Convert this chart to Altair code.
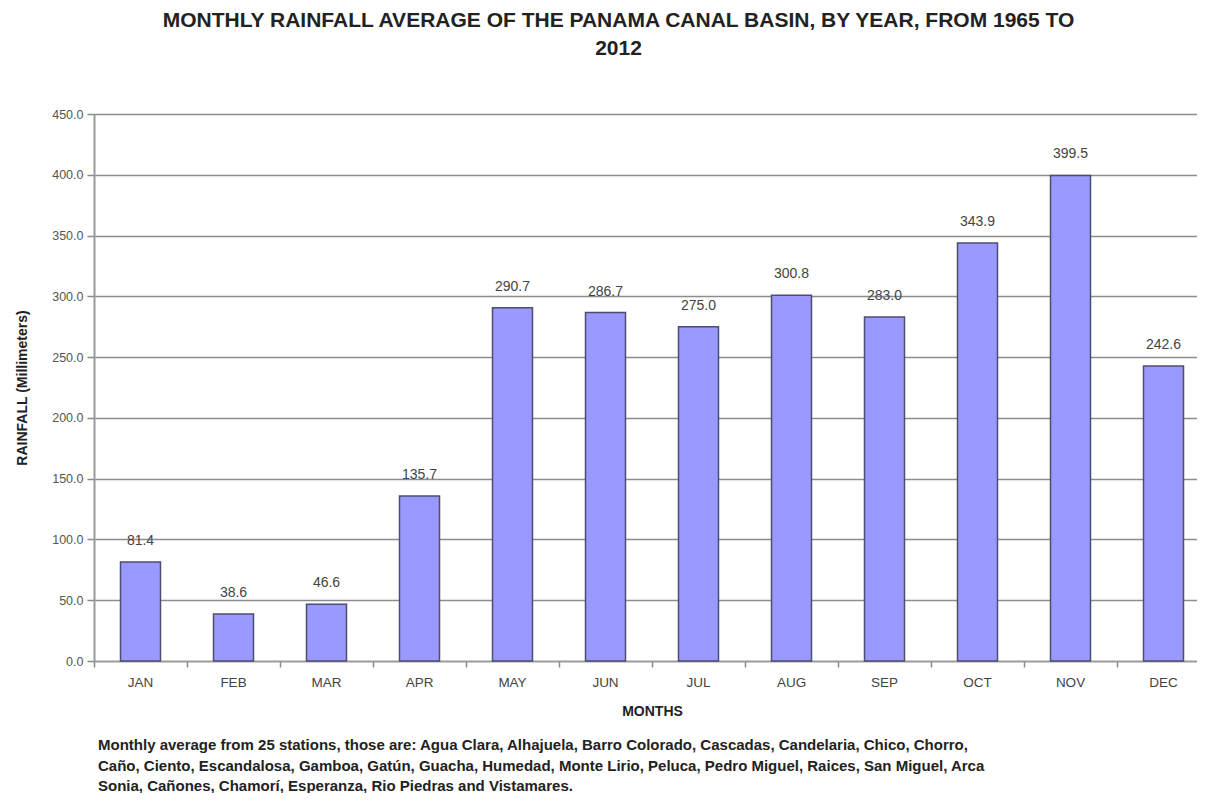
import altair as alt
import pandas as pd

months = ["JAN", "FEB", "MAR", "APR", "MAY", "JUN", "JUL", "AUG", "SEP", "OCT", "NOV", "DEC"]
rainfall = [81.4, 38.6, 46.6, 135.7, 290.7, 286.7, 275.0, 300.8, 283.0, 343.9, 399.5, 242.6]

title_lines = ["MONTHLY RAINFALL AVERAGE OF THE PANAMA CANAL BASIN, BY YEAR, FROM 1965 TO", "2012"]
footnote_lines = [
    "Monthly average from 25 stations,  those are: Agua Clara, Alhajuela,  Barro Colorado, Cascadas, Candelaria,  Chico, Chorro,",
    "Caño, Ciento, Escandalosa, Gamboa, Gatún, Guacha, Humedad,  Monte Lirio, Peluca, Pedro Miguel,  Raices,  San Miguel,  Arca",
    "Sonia, Cañones, Chamorí, Esperanza, Rio Piedras  and Vistamares.",
]

df = pd.DataFrame({"month": months, "rain": rainfall})
FONT = "Liberation Sans"

base = alt.Chart(df)
xscale = alt.Scale(paddingInner=0, paddingOuter=0, range=[0, 1116])

bars = base.mark_bar(color="#9999FF", stroke="#4d4d6e", strokeWidth=1.5,
                     width=alt.RelativeBandSize(0.43)).encode(
    x=alt.X("month:N", sort=months, title="MONTHS", scale=xscale,
            axis=alt.Axis(labelAngle=0, bandPosition=0, ticks=True, tickSize=6,
                          tickColor="#888888", tickWidth=1.5, domainColor="#999999", domainWidth=1.5,
                          labelFont=FONT, labelFontSize=13.5, labelColor="#444444", labelPadding=8,
                          titleFont=FONT, titleFontSize=14, titleFontWeight="bold", titleColor="#222222",
                          titlePadding=16)),
    y=alt.Y("rain:Q", title="RAINFALL  (Millimeters)",
            scale=alt.Scale(domain=[0, 450], nice=False),
            axis=alt.Axis(values=list(range(0, 451, 50)), format=".1f", grid=True, gridColor="#8c8c8c",
                          gridWidth=1.5, tickSize=7, tickColor="#888888", tickWidth=1.5,
                          domainColor="#999999", domainWidth=2,
                          labelFont=FONT, labelFontSize=12.5, labelColor="#555555", labelPadding=4,
                          titleFont=FONT, titleFontSize=14, titleFontWeight="bold", titleColor="#222222",
                          titlePadding=22)),
)

labels = base.mark_text(font=FONT, fontSize=14, color="#444444", baseline="bottom", dy=-14).encode(
    x=alt.X("month:N", sort=months, scale=xscale),
    y="rain:Q",
    text=alt.Text("rain:Q", format=".1f"),
)

foot = alt.Chart(alt.Data(values=[{"t": "\n".join(footnote_lines)}])).mark_text(
    font=FONT, fontSize=15, fontWeight="bold", color="#222222", align="left", baseline="top",
    lineBreak="\n", lineHeight=20.5,
).encode(x=alt.value(4), y=alt.value(624), text="t:N")

chart = alt.layer(bars, labels, foot).properties(
    width=1103, height=547,
    title=alt.TitleParams(title_lines, font=FONT, fontSize=21, fontWeight="bold", color="#222222",
                          anchor="middle", dx=-27, offset=49, lineHeight=28),
    autosize=alt.AutoSizeParams(type="none"),
    padding={"left": 86, "top": 106, "right": 0, "bottom": 132},
).configure_view(stroke=None).configure(background="white")

chart.save("out.html", embed_options={"renderer": "svg", "actions": False})
